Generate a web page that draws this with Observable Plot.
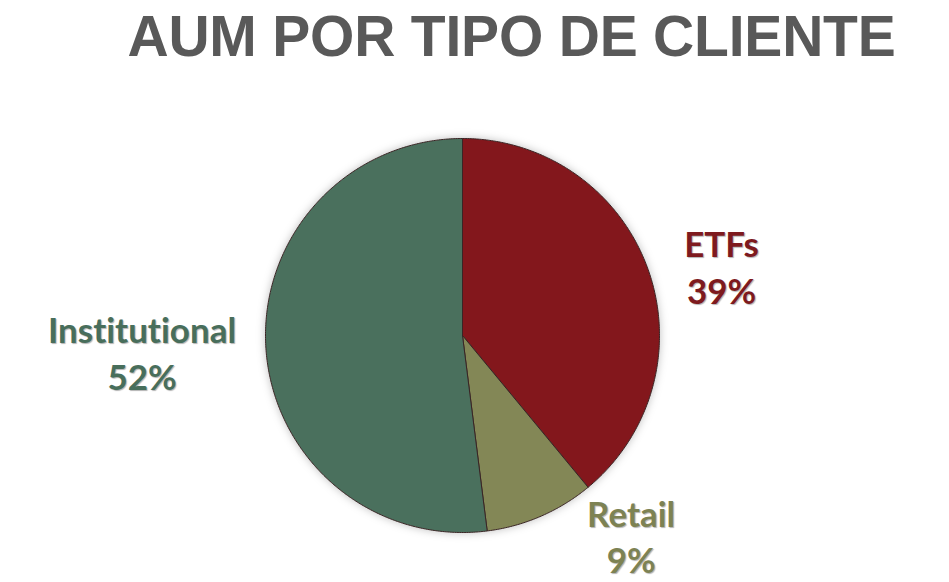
<!DOCTYPE html>
<html>
<head>
<meta charset="utf-8">
<script src="https://cdn.jsdelivr.net/npm/d3@7"></script>
<script src="https://cdn.jsdelivr.net/npm/@observablehq/plot@0.6"></script>
<style>
  html, body { margin: 0; padding: 0; background: #ffffff; }
  #wrap { width: 949px; height: 582px; position: relative; overflow: hidden; }
  #title {
    height: 80px; box-sizing: border-box; padding-top: 8px;
    font-family: "Liberation Sans", Arial, sans-serif; font-weight: bold;
    font-size: 57px; line-height: 57px; color: #595959;
    text-align: center; padding-left: 74px; white-space: nowrap;
    letter-spacing: -0.2px;
  }
  svg text { text-shadow: 1px 1px 1px rgba(0,0,0,0.3); font-variant-ligatures: none; }
  svg g[aria-label="line"] { filter: drop-shadow(0 0 4px rgba(0,0,0,0.25)); }
</style>
</head>
<body>
<div id="wrap">
  <div id="title">AUM POR TIPO DE CLIENTE</div>
  <div id="chart"></div>
</div>
<script>
const categories = ["ETFs", "Retail", "Institutional"];
const shares = [39, 9, 52];
const sliceColors = ["#83171c", "#838756", "#4a705d"];
const labelColors = ["#7e1a1e", "#7d8253", "#486e5b"];

const W = 949, H = 502;
const cx = 462, cy = 255, R = 197;

const pie = d3.pie().sort(null).value(d => d.value);
const arcs = pie(categories.map((c, i) => ({cat: c, value: shares[i]})));

// polygon points for each slice (derived from pie angles)
const pts = [];
arcs.forEach(a => {
  const cat = a.data.cat;
  pts.push({cat, x: cx, y: cy});
  const n = Math.max(2, Math.ceil((a.endAngle - a.startAngle) / (Math.PI / 360)));
  for (let k = 0; k <= n; k++) {
    const t = a.startAngle + (a.endAngle - a.startAngle) * k / n;
    pts.push({cat, x: cx + R * Math.sin(t), y: cy - R * Math.cos(t)});
  }
  pts.push({cat, x: cx, y: cy});
});

// label placement: radial distance factor + nudges (layout only)
const labelLayout = {
  "ETFs": {f: 1.36, dx: 7, dy: 21},
  "Retail": {f: 1.30, dx: 67, dy: -35},
  "Institutional": {f: 1.63, dx: 0, dy: -4}
};
const labels = arcs.map((a, i) => {
  const m = (a.startAngle + a.endAngle) / 2;
  const L = labelLayout[a.data.cat];
  return {
    cat: a.data.cat,
    text: `${a.data.cat}\n${Math.round(a.value)}%`,
    x: cx + R * L.f * Math.sin(m) + L.dx,
    y: cy - R * L.f * Math.cos(m) + L.dy,
    color: labelColors[i]
  };
});

const plot = Plot.plot({
  width: W, height: H,
  margin: 0,
  x: {domain: [0, W], range: [0, W], axis: null},
  y: {domain: [0, H], range: [0, H], axis: null},
  color: {domain: categories, range: sliceColors},
  style: {background: "transparent", overflow: "visible"},
  marks: [
    Plot.line(pts, {x: "x", y: "y", z: "cat", fill: "cat", stroke: "#3a2525", strokeWidth: 1, curve: "linear"}),
    Plot.text(labels, {
      x: "x", y: "y", text: "text", fill: "color",
      fontFamily: "Lato, 'Open Sans', sans-serif", fontWeight: "bold",
      fontSize: 35, lineHeight: 1.32, textAnchor: "middle",
      letterSpacing: 1.2
    })
  ]
});
document.getElementById("chart").appendChild(plot);
</script>
</body>
</html>
